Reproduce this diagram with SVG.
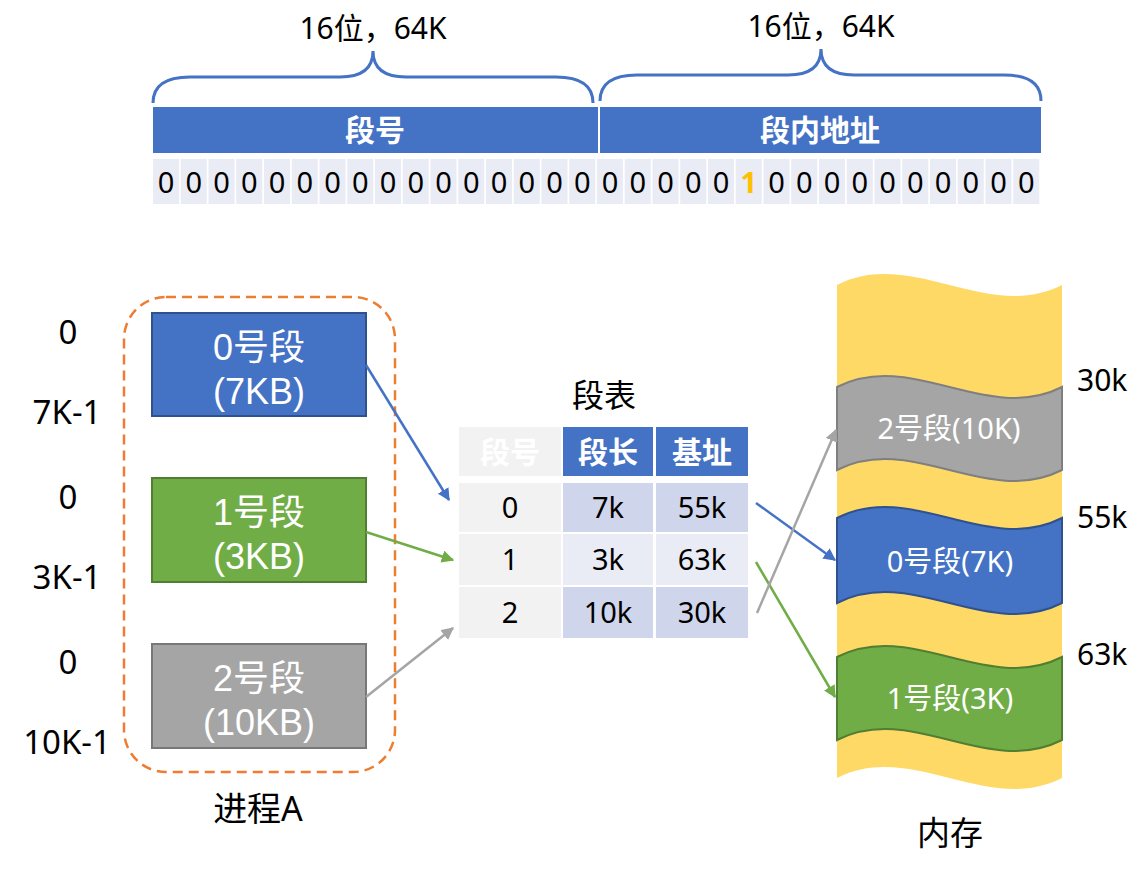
<svg xmlns="http://www.w3.org/2000/svg" width="1146" height="872" viewBox="0 0 1146 872">
<defs>
<style>
text{font-family:"Noto Sans","Noto Sans CJK SC",sans-serif;}
.lbl{font-size:30px;fill:#000;text-anchor:middle;}
.bar{fill:#4472C4;}
.bartxt{font-size:30px;font-weight:bold;fill:#fff;text-anchor:middle;}
.cell{fill:#E9EBF5;}
.bit{font-size:29px;fill:#000;text-anchor:middle;}
.brace{fill:none;stroke:#4472C4;stroke-width:3;}
.seg{stroke-width:2;}
.segtxt{font-family:"Liberation Sans","Noto Sans CJK SC",sans-serif;font-size:36px;fill:#fff;text-anchor:middle;}
.addr{font-size:33px;fill:#000;text-anchor:middle;}
.th{font-size:30px;font-weight:bold;fill:#fff;text-anchor:middle;}
.td{font-size:29px;fill:#000;text-anchor:middle;}
.memtxt{font-size:29px;fill:#fff;text-anchor:middle;}
.conn{fill:none;stroke-width:2.5;}
</style>
<marker id="ab" viewBox="0 0 10 10" refX="9" refY="5" markerWidth="5" markerHeight="5" orient="auto" markerUnits="strokeWidth"><path d="M0,0 L10,5 L0,10 Z" fill="#4472C4"/></marker>
<marker id="ag" viewBox="0 0 10 10" refX="9" refY="5" markerWidth="5" markerHeight="5" orient="auto" markerUnits="strokeWidth"><path d="M0,0 L10,5 L0,10 Z" fill="#70AD47"/></marker>
<marker id="ay" viewBox="0 0 10 10" refX="9" refY="5" markerWidth="5" markerHeight="5" orient="auto" markerUnits="strokeWidth"><path d="M0,0 L10,5 L0,10 Z" fill="#A5A5A5"/></marker>
</defs>

<g id="address-format">
<path class="brace" d="M153,103 Q153,77 190,77 L340,77 Q373,77 373,51 Q373,77 406,77 L556,77 Q593,77 593,103"/>
<path class="brace" d="M600,101 Q600,75 637,75 L788,75 Q821,75 821,49 Q821,75 854,75 L1004,75 Q1041,75 1041,101"/>
<text class="lbl" x="373" y="39">16位，64K</text>
<text class="lbl" x="821" y="37">16位，64K</text>
<rect class="bar" x="153" y="107" width="445" height="46"/>
<rect class="bar" x="600" y="107" width="441" height="46"/>
<text class="bartxt" x="375" y="141">段号</text>
<text class="bartxt" x="820" y="141">段内地址</text>
<g id="bits">
<rect class="cell" x="153" y="159" width="26" height="45"/>
<rect class="cell" x="180.75" y="159" width="26" height="45"/>
<rect class="cell" x="208.5" y="159" width="26" height="45"/>
<rect class="cell" x="236.25" y="159" width="26" height="45"/>
<rect class="cell" x="264" y="159" width="26" height="45"/>
<rect class="cell" x="291.75" y="159" width="26" height="45"/>
<rect class="cell" x="319.5" y="159" width="26" height="45"/>
<rect class="cell" x="347.25" y="159" width="26" height="45"/>
<rect class="cell" x="375" y="159" width="26" height="45"/>
<rect class="cell" x="402.75" y="159" width="26" height="45"/>
<rect class="cell" x="430.5" y="159" width="26" height="45"/>
<rect class="cell" x="458.25" y="159" width="26" height="45"/>
<rect class="cell" x="486" y="159" width="26" height="45"/>
<rect class="cell" x="513.75" y="159" width="26" height="45"/>
<rect class="cell" x="541.5" y="159" width="26" height="45"/>
<rect class="cell" x="569.25" y="159" width="26" height="45"/>
<rect class="cell" x="597" y="159" width="26" height="45"/>
<rect class="cell" x="624.75" y="159" width="26" height="45"/>
<rect class="cell" x="652.5" y="159" width="26" height="45"/>
<rect class="cell" x="680.25" y="159" width="26" height="45"/>
<rect class="cell" x="708" y="159" width="26" height="45"/>
<rect class="cell" x="735.75" y="159" width="26" height="45"/>
<rect class="cell" x="763.5" y="159" width="26" height="45"/>
<rect class="cell" x="791.25" y="159" width="26" height="45"/>
<rect class="cell" x="819" y="159" width="26" height="45"/>
<rect class="cell" x="846.75" y="159" width="26" height="45"/>
<rect class="cell" x="874.5" y="159" width="26" height="45"/>
<rect class="cell" x="902.25" y="159" width="26" height="45"/>
<rect class="cell" x="930" y="159" width="26" height="45"/>
<rect class="cell" x="957.75" y="159" width="26" height="45"/>
<rect class="cell" x="985.5" y="159" width="26" height="45"/>
<rect class="cell" x="1013.25" y="159" width="26" height="45"/>
<text class="bit" x="166" y="193">0</text>
<text class="bit" x="193.75" y="193">0</text>
<text class="bit" x="221.5" y="193">0</text>
<text class="bit" x="249.25" y="193">0</text>
<text class="bit" x="277" y="193">0</text>
<text class="bit" x="304.75" y="193">0</text>
<text class="bit" x="332.5" y="193">0</text>
<text class="bit" x="360.25" y="193">0</text>
<text class="bit" x="388" y="193">0</text>
<text class="bit" x="415.75" y="193">0</text>
<text class="bit" x="443.5" y="193">0</text>
<text class="bit" x="471.25" y="193">0</text>
<text class="bit" x="499" y="193">0</text>
<text class="bit" x="526.75" y="193">0</text>
<text class="bit" x="554.5" y="193">0</text>
<text class="bit" x="582.25" y="193">0</text>
<text class="bit" x="610" y="193">0</text>
<text class="bit" x="637.75" y="193">0</text>
<text class="bit" x="665.5" y="193">0</text>
<text class="bit" x="693.25" y="193">0</text>
<text class="bit" x="721" y="193">0</text>
<text class="bit" x="748.75" y="193" font-weight="bold" style="fill:#FFC000">1</text>
<text class="bit" x="776.5" y="193">0</text>
<text class="bit" x="804.25" y="193">0</text>
<text class="bit" x="832" y="193">0</text>
<text class="bit" x="859.75" y="193">0</text>
<text class="bit" x="887.5" y="193">0</text>
<text class="bit" x="915.25" y="193">0</text>
<text class="bit" x="943" y="193">0</text>
<text class="bit" x="970.75" y="193">0</text>
<text class="bit" x="998.5" y="193">0</text>
<text class="bit" x="1026.25" y="193">0</text>
</g>
</g>

<g id="process-a">
<rect x="124" y="297" width="271" height="475" rx="42" fill="none" stroke="#ED7D31" stroke-width="2.5" stroke-dasharray="10,6"/>
<text class="addr" x="258" y="821" style="font-size:34px">进程A</text>
<text class="addr" x="68" y="344">0</text>
<text class="addr" x="67" y="424">7K-1</text>
<text class="addr" x="68" y="509">0</text>
<text class="addr" x="67" y="589">3K-1</text>
<text class="addr" x="68" y="674">0</text>
<text class="addr" x="67" y="754">10K-1</text>
</g>
<g id="seg0">
<rect class="seg" x="152" y="313" width="214" height="103" fill="#4472C4" stroke="#2F528F"/>
<text class="segtxt" x="259" y="360"><tspan x="259" y="360">0号段</tspan><tspan x="259" y="404">(7KB)</tspan></text>
</g>
<g id="seg1">
<rect class="seg" x="152" y="478" width="214" height="104" fill="#70AD47" stroke="#507E32"/>
<text class="segtxt" x="259" y="525"><tspan x="259" y="525">1号段</tspan><tspan x="259" y="569">(3KB)</tspan></text>
</g>
<g id="seg2">
<rect class="seg" x="152" y="644" width="214" height="104" fill="#A5A5A5" stroke="#787878"/>
<text class="segtxt" x="259" y="691"><tspan x="259" y="691">2号段</tspan><tspan x="259" y="735">(10KB)</tspan></text>
</g>

<g id="segment-table">
<text class="addr" x="604" y="407" style="font-size:32px">段表</text>
<rect x="459" y="427" width="102" height="49" fill="#F2F2F2"/>
<rect x="563" y="427" width="90" height="49" fill="#4472C4"/>
<rect x="656" y="427" width="92" height="49" fill="#4472C4"/>
<text class="th" x="510" y="463">段号</text>
<text class="th" x="608" y="463">段长</text>
<text class="th" x="702" y="463">基址</text>
<rect x="459" y="483" width="102" height="49" fill="#F2F2F2"/>
<rect x="563" y="483" width="90" height="49" fill="#CFD5EA"/>
<rect x="656" y="483" width="92" height="49" fill="#CFD5EA"/>
<rect x="459" y="534" width="102" height="51" fill="#F2F2F2"/>
<rect x="563" y="534" width="90" height="51" fill="#E9EBF5"/>
<rect x="656" y="534" width="92" height="51" fill="#E9EBF5"/>
<rect x="459" y="587" width="102" height="51" fill="#F2F2F2"/>
<rect x="563" y="587" width="90" height="51" fill="#CFD5EA"/>
<rect x="656" y="587" width="92" height="51" fill="#CFD5EA"/>
<text class="td" x="510" y="518">0</text>
<text class="td" x="608" y="518">7k</text>
<text class="td" x="702" y="518">55k</text>
<text class="td" x="510" y="570">1</text>
<text class="td" x="608" y="570">3k</text>
<text class="td" x="702" y="570">63k</text>
<text class="td" x="510" y="623">2</text>
<text class="td" x="608" y="623">10k</text>
<text class="td" x="702" y="623">30k</text>
</g>

<g id="memory">
<path d="M837,285 C912,247 987,323 1062,285 L1062,778 C987,816 912,740 837,778 Z" fill="#FFD966"/>
<text class="addr" x="950" y="845">内存</text>
<text class="td" x="1077" y="391" style="text-anchor:start;font-size:30px">30k</text>
<text class="td" x="1077" y="528" style="text-anchor:start;font-size:30px">55k</text>
<text class="td" x="1077" y="665" style="text-anchor:start;font-size:30px">63k</text>
</g>
<g id="mem-seg2">
<path class="seg" d="M837,387 C912,349 987,425 1062,387 L1062,470 C987,508 912,432 837,470 Z" fill="#A5A5A5" stroke="#7F7F7F"/>
<text class="memtxt" x="949" y="439">2号段(10K)</text>
</g>
<g id="mem-seg0">
<path class="seg" d="M837,518 C912,480 987,556 1062,518 L1062,603 C987,641 912,565 837,603 Z" fill="#4472C4" stroke="#2F528F"/>
<text class="memtxt" x="950" y="572">0号段(7K)</text>
</g>
<g id="mem-seg1">
<path class="seg" d="M837,657 C912,619 987,695 1062,657 L1062,740 C987,778 912,702 837,740 Z" fill="#70AD47" stroke="#507E32"/>
<text class="memtxt" x="950" y="709">1号段(3K)</text>
</g>

<g id="connectors">
<line class="conn" x1="366" y1="365" x2="449" y2="500" stroke="#4472C4" marker-end="url(#ab)"/>
<line class="conn" x1="366" y1="532" x2="453" y2="560" stroke="#70AD47" marker-end="url(#ag)"/>
<line class="conn" x1="366" y1="697" x2="453" y2="628" stroke="#A5A5A5" marker-end="url(#ay)"/>
<line class="conn" x1="756" y1="503" x2="835" y2="560" stroke="#4472C4" marker-end="url(#ab)"/>
<line class="conn" x1="756" y1="562" x2="835" y2="697" stroke="#70AD47" marker-end="url(#ag)"/>
<line class="conn" x1="757" y1="613" x2="836" y2="430" stroke="#A5A5A5" marker-end="url(#ay)"/>
</g>
</svg>
